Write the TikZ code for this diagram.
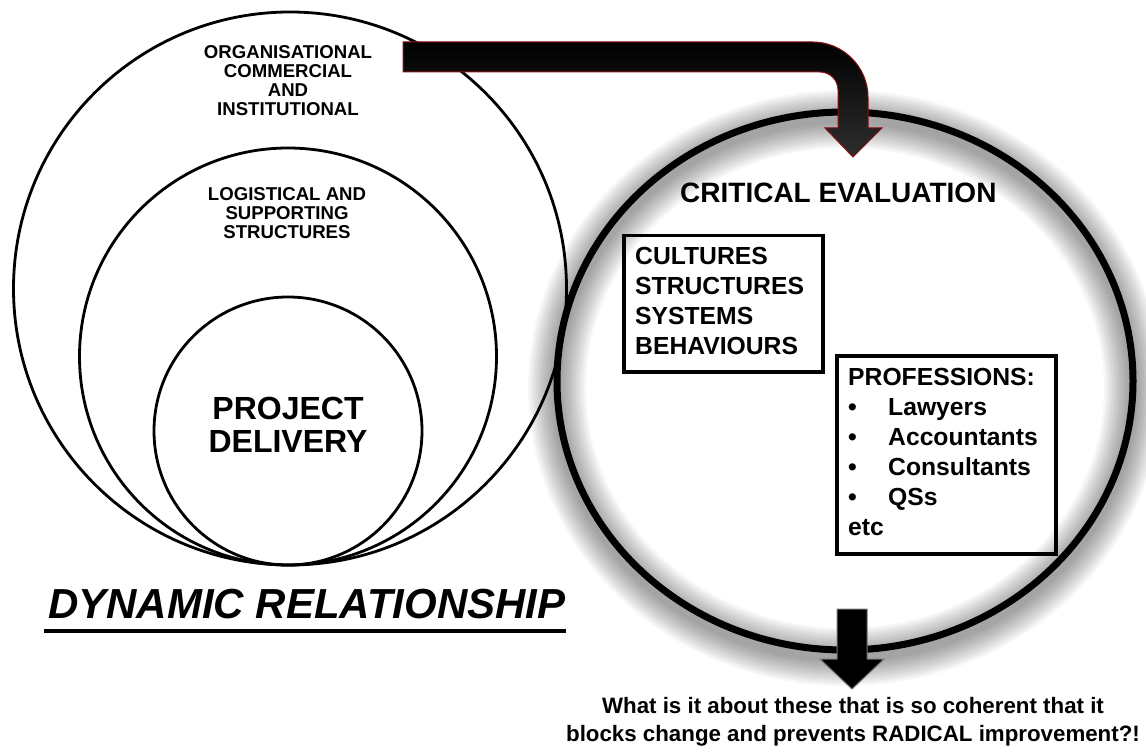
\documentclass[tikz,border=0pt]{standalone}
\usepackage{fontspec}
\setmainfont{Liberation Sans}
\definecolor{arrowred}{HTML}{8B1010}
\begin{document}
\begin{tikzpicture}[x=1pt,y=-1pt,
  thincircle/.style={draw=black,line width=2.8pt},
  thickcircle/.style={draw=black,line width=7pt},
  box/.style={draw=black,line width=3.5pt,inner sep=0pt},
  label/.style={inner sep=0pt,font=\bfseries\fontsize{18.6}{19}\selectfont,align=center},
  boxtext/.style={inner sep=0pt,font=\bfseries\fontsize{24.7}{30}\selectfont,align=left},
  bigarrow/.style={draw=arrowred,line width=1pt,top color=black,bottom color=black!82},
  downarrow/.style={draw=black!55,line width=1pt,fill=black}
]
\useasboundingbox (0,0) rectangle (1146,754);
\fill[white] (0,0) rectangle (1146,754);

% glow round the right circle
\foreach \w in {58,54,...,10}
  \draw[black,opacity=0.03,line width=\w pt] (845,388) ellipse [x radius=288pt,y radius=269pt];

% nested circles on the left
\draw[thincircle] (290,288.5) circle [radius=276.5pt];
\draw[thincircle] (288,356.5) circle [radius=208.5pt];
\draw[thincircle] (288,431) circle [radius=134pt];

% right circle
\draw[thickcircle] (845,381) ellipse [x radius=288pt,y radius=269pt];

% curved arrow at the top
\path[bigarrow] (403,42) -- (813,42) .. controls (843,42) and (868,67) .. (868,97)
  -- (868,128) -- (882,128) -- (853,157) -- (825,128) -- (838,128) -- (838,90)
  .. controls (838,80) and (830,72) .. (820,72) -- (403,72) -- cycle;

% arrow at the bottom
\path[downarrow] (837,609) -- (867,609) -- (867,659) -- (884,659) -- (852,689)
  -- (820,659) -- (837,659) -- cycle;

% texts on the left
\node[label,anchor=north] (org) at (288,45) {ORGANISATIONAL\\COMMERCIAL\\AND\\INSTITUTIONAL};
\node[label,anchor=north] (log) at (287,187.5) {LOGISTICAL AND\\SUPPORTING\\STRUCTURES};
\node[inner sep=0pt,anchor=north,align=center,font=\bfseries\fontsize{32}{33}\selectfont] (proj) at (288,397) {PROJECT\\DELIVERY};
\node[inner sep=0pt,anchor=base west,font=\bfseries\itshape\fontsize{42}{42}\selectfont] (dyn) at (48,618) {DYNAMIC RELATIONSHIP};
\draw[line width=4pt] ([shift={(-4,13)}]dyn.base west) -- ([shift={(0,13)}]dyn.base east);

% texts on the right
\node[inner sep=0pt,anchor=base west,font=\bfseries\fontsize{28}{28}\selectfont] (crit) at (680,203) {CRITICAL EVALUATION};

\node[box,anchor=north west,minimum width=199pt,minimum height=136pt] (cbox) at (622,234) {};
\node[boxtext,anchor=north west] (ctext) at (635,247) {CULTURES\\STRUCTURES\\SYSTEMS\\BEHAVIOURS};

\node[box,anchor=north west,minimum width=219pt,minimum height=198pt] (pbox) at (835,354) {};
\node[boxtext,anchor=north west] (ptext) at (848,368) {PROFESSIONS:\\
  \makebox[40pt][l]{•}Lawyers\\
  \makebox[40pt][l]{•}Accountants\\
  \makebox[40pt][l]{•}Consultants\\
  \makebox[40pt][l]{•}QSs\\
  etc};

\node[inner sep=0pt,anchor=north,align=center,font=\bfseries\fontsize{22.3}{28}\selectfont] (question) at (853,697)
  {What is it about these that is so coherent that it\\blocks change and prevents RADICAL improvement?!};
\end{tikzpicture}
\end{document}
